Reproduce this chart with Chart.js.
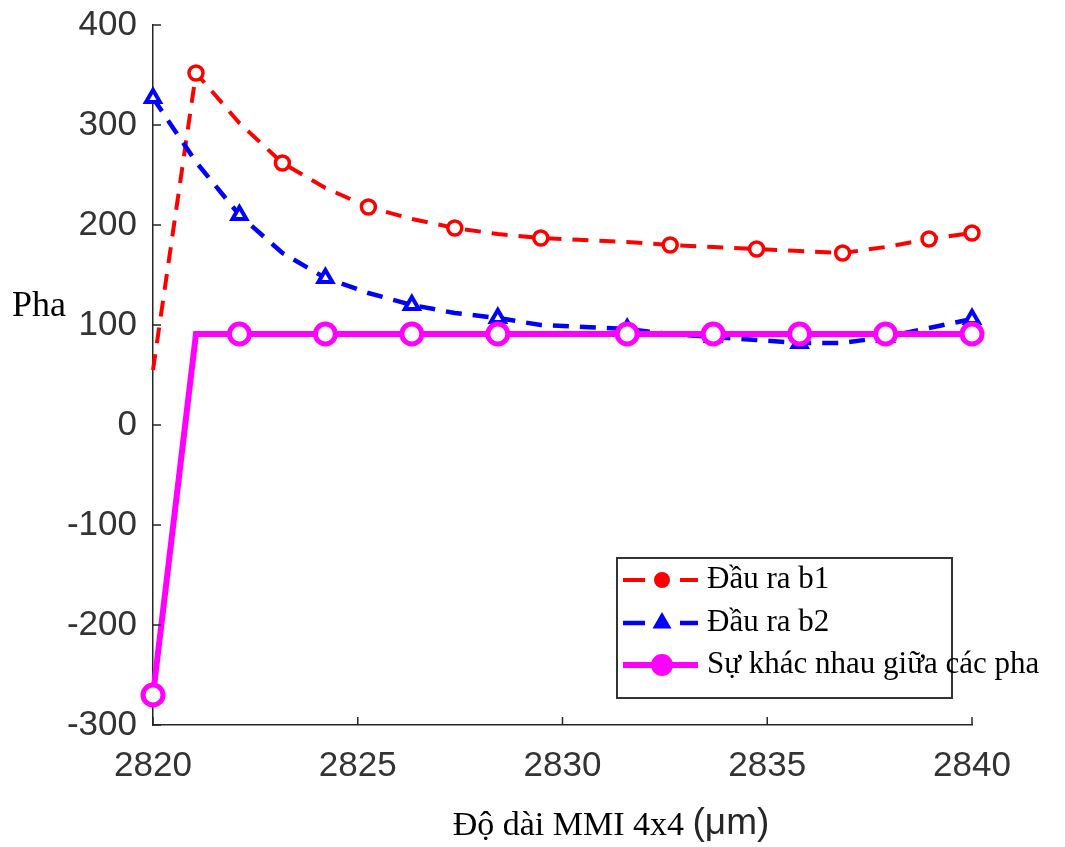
<!DOCTYPE html>
<html>
<head>
<meta charset="utf-8">
<title>Pha - MMI 4x4</title>
<script src="https://cdn.jsdelivr.net/npm/chart.js@4"></script>
<style>
  html, body { margin: 0; padding: 0; background: #fff; }
</style>
</head>
<body>
<canvas id="chart" width="1065" height="847"></canvas>
<script>
'use strict';

//#region Data

// MMI length (um), 20 samples from 2820 to 2840
const lengths = [2820, 2821.05, 2822.11, 2823.16, 2824.21, 2825.26, 2826.32, 2827.37, 2828.42, 2829.47,
  2830.53, 2831.58, 2832.63, 2833.68, 2834.74, 2835.79, 2836.84, 2837.89, 2838.95, 2840];

const phaseB1 = [55, 352, 302, 262, 237, 218, 206, 197, 191, 187,
  185, 183, 180, 178, 176, 174, 172, 178, 186, 192];

const phaseB2 = [327, 263, 210, 172, 147, 132, 120, 112, 107, 100,
  98, 96, 91, 88, 85, 82, 82, 88, 97, 106];

const phaseDiff = [-270, 91, 91, 91, 91, 91, 91, 91, 91, 91,
  91, 91, 91, 91, 91, 91, 91, 91, 91, 91];

const seriesNames = ['Đầu ra b1', 'Đầu ra b2', 'Sự khác nhau giữa các pha'];

const xTicks = [2820, 2825, 2830, 2835, 2840];
const yTicks = [-300, -200, -100, 0, 100, 200, 300, 400];

//#endregion

//#region Helpers

// which samples carry a marker (as in the original plot)
const marksB1 = [1, 3, 5, 7, 9, 12, 14, 16, 18, 19];
const marksB2 = [0, 2, 4, 6, 8, 11, 13, 15, 17, 19];

function toPoints(values) {
  return values.map((v, i) => ({ x: lengths[i], y: v }));
}

function markerRadius(marks, r) {
  return ctx => (marks.includes(ctx.dataIndex) ? r : 0);
}

const axisColor = '#262626';

//#endregion

//#region Decoration plugin (inward ticks, titles, legend)

const decorPlugin = {
  id: 'decor',
  afterDraw(chart) {
    const { ctx, chartArea, scales } = chart;
    ctx.save();

    // inward tick marks
    ctx.strokeStyle = axisColor;
    ctx.lineWidth = 1.5;
    ctx.beginPath();
    scales.x.ticks.forEach(t => {
      const px = scales.x.getPixelForValue(t.value);
      ctx.moveTo(px, chartArea.bottom);
      ctx.lineTo(px, chartArea.bottom - 8);
    });
    scales.y.ticks.forEach(t => {
      const py = scales.y.getPixelForValue(t.value);
      ctx.moveTo(chartArea.left, py);
      ctx.lineTo(chartArea.left + 8, py);
    });
    ctx.stroke();

    // y title, horizontal
    ctx.fillStyle = '#000';
    ctx.textBaseline = 'middle';
    ctx.textAlign = 'left';
    ctx.font = '36px "Liberation Serif"';
    ctx.fillText('Pha', 12, 307);

    // x title
    const part1 = 'Độ dài MMI 4x4 ';
    const part2 = '(μm)';
    ctx.font = '34px "Liberation Serif"';
    const w1 = ctx.measureText(part1).width;
    ctx.font = '37px "Liberation Sans"';
    const w2 = ctx.measureText(part2).width;
    let tx = 611 - (w1 + w2) / 2;
    ctx.font = '34px "Liberation Serif"';
    ctx.fillText(part1, tx, 826);
    ctx.font = '37px "Liberation Sans"';
    ctx.fillStyle = '#262626';
    ctx.fillText(part2, tx + w1, 824);

    // legend box
    ctx.fillStyle = '#fff';
    ctx.fillRect(617, 558, 335, 140);
    ctx.strokeStyle = '#333';
    ctx.lineWidth = 2;
    ctx.strokeRect(617, 558, 335, 140);

    const rows = [580, 623, 665];
    const legendOrder = [0, 1, 2];
    legendOrder.forEach((di, r) => {
      const ds = chart.data.datasets[di];
      const y = rows[r];
      ctx.save();
      ctx.strokeStyle = ds.borderColor;
      ctx.lineWidth = ds.borderWidth;
      ctx.setLineDash(ds.borderDash && ds.borderDash.length ? [22, 35] : []);
      ctx.beginPath();
      ctx.moveTo(623, y);
      ctx.lineTo(698, y);
      ctx.stroke();
      ctx.setLineDash([]);
      ctx.fillStyle = ds.borderColor;
      ctx.lineWidth = 2;
      Chart.helpers.drawPoint(ctx, {
        pointStyle: ds.pointStyle,
        radius: ds.legendRadius,
        rotation: 0,
        borderWidth: 2
      }, 662, y);
      ctx.restore();

      ctx.fillStyle = '#000';
      ctx.font = '31px "Liberation Serif"';
      ctx.textBaseline = 'middle';
      ctx.fillText(seriesNames[di], 707, y);
    });

    ctx.restore();
  }
};

//#endregion

//#region Chart

const chartElem = document.getElementById('chart');
let context = chartElem.getContext('2d');

let chartObj = {
  type: 'line',
  data: {
    datasets: [{
      label: seriesNames[0],
      data: toPoints(phaseB1),
      borderColor: '#ff0000',
      borderWidth: 4,
      borderDash: [16, 11],
      pointStyle: 'circle',
      pointRadius: markerRadius(marksB1, 7),
      pointBorderWidth: 3.5,
      pointBackgroundColor: '#fff',
      pointBorderColor: '#ff0000',
      legendRadius: 7,
      tension: 0,
      clip: false,
      order: 3
    },
    {
      label: seriesNames[1],
      data: toPoints(phaseB2),
      borderColor: '#0000ff',
      borderWidth: 4.5,
      borderDash: [16, 11],
      pointStyle: 'triangle',
      pointRadius: markerRadius(marksB2, 8),
      pointBorderWidth: 4,
      pointBackgroundColor: '#fff',
      pointBorderColor: '#0000ff',
      legendRadius: 9,
      tension: 0,
      clip: false,
      order: 2
    },
    {
      label: seriesNames[2],
      data: toPoints(phaseDiff),
      borderColor: '#ff00ff',
      borderWidth: 6,
      pointStyle: 'circle',
      pointRadius: markerRadius(marksB2, 10),
      pointBorderWidth: 5,
      pointBackgroundColor: '#fff',
      pointBorderColor: '#ff00ff',
      legendRadius: 10,
      tension: 0,
      clip: false,
      order: 1
    }]
  },
  options: {
    responsive: false,
    animation: false,
    layout: {
      padding: { left: 0, right: 93, top: 25, bottom: 0 }
    },
    plugins: {
      legend: { display: false },
      tooltip: { enabled: false }
    },
    scales: {
      x: {
        type: 'linear',
        min: 2820,
        max: 2840,
        afterBuildTicks: s => { s.ticks = xTicks.map(v => ({ value: v })); },
        afterFit: s => { s.height = 122; s.paddingLeft = 0; s.paddingRight = 0; },
        grid: { display: false, drawTicks: false },
        border: { display: true, color: axisColor, width: 1.5 },
        ticks: {
          color: '#333',
          padding: 20,
          maxRotation: 0,
          callback: v => String(v),
          font: { family: 'Liberation Sans', size: 35 }
        }
      },
      y: {
        type: 'linear',
        min: -300,
        max: 400,
        afterBuildTicks: s => { s.ticks = yTicks.map(v => ({ value: v })); },
        afterFit: s => { s.width = 153; s.paddingTop = 0; s.paddingBottom = 0; },
        grid: { display: false, drawTicks: false },
        border: { display: true, color: axisColor, width: 1.5 },
        ticks: {
          color: '#333',
          padding: 16,
          callback: v => String(v),
          font: { family: 'Liberation Sans', size: 35 }
        }
      }
    }
  },
  plugins: [decorPlugin]
};

const chart = new Chart(context, chartObj); //eslint-disable-line

//#endregion
</script>
</body>
</html>
